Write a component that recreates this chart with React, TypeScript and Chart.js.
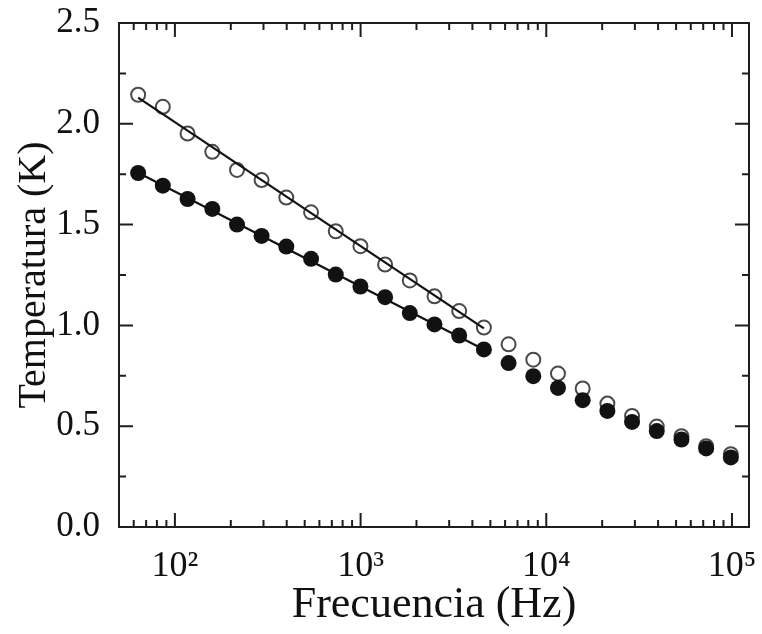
import { useEffect, useRef } from "react";
import { Chart, registerables } from "chart.js";

Chart.register(...registerables);

const frequencies = [
  63.4, 86.1, 117, 159, 216, 293, 398, 541, 735, 998, 1355, 1841, 2500, 3396, 4613,
  6266, 8511, 11560, 15700, 21330, 28970, 39350, 53450, 72600, 98600,
];
const openValues = [
  2.144, 2.084, 1.952, 1.861, 1.771, 1.721, 1.634, 1.561, 1.467, 1.393, 1.302, 1.223, 1.144,
  1.071, 0.989, 0.906, 0.83, 0.761, 0.687, 0.612, 0.551, 0.498, 0.45, 0.401, 0.361,
];
const filledValues = [
  1.756, 1.693, 1.627, 1.578, 1.5, 1.444, 1.391, 1.33, 1.252, 1.193, 1.14, 1.061, 1.005,
  0.95, 0.881, 0.813, 0.748, 0.69, 0.629, 0.576, 0.521, 0.476, 0.434, 0.39, 0.345,
];
const fitX = [63.4, 4613];
const fitOpenY = [2.13, 0.985];
const fitFilledY = [1.757, 0.88];
const xTickValues = [100, 1000, 10000, 100000];
const xTickLabels = ["10²", "10³", "10⁴", "10⁵"];
const yTickLabels = ["0.0", "0.5", "1.0", "1.5", "2.0", "2.5"];

const FONT = "'Liberation Serif', 'Times New Roman', serif";

const framePlugin = {
  id: "framePlugin",
  afterDraw(chart: any) {
    const { ctx, chartArea } = chart;
    const { left, right, top, bottom } = chartArea;
    const xs = chart.scales.x;
    const ys = chart.scales.y;
    ctx.save();
    ctx.strokeStyle = "#1e1e1e";
    ctx.lineWidth = 2;
    ctx.strokeRect(left, top, right - left, bottom - top);
    ctx.beginPath();
    const yt = ys.ticks.map((t: any) => t.value);
    for (let i = 0; i < yt.length; i++) {
      const py = ys.getPixelForValue(yt[i]);
      ctx.moveTo(left, py);
      ctx.lineTo(left + 14, py);
      ctx.moveTo(right, py);
      ctx.lineTo(right - 14, py);
      if (i < yt.length - 1) {
        const pm = ys.getPixelForValue((yt[i] + yt[i + 1]) / 2);
        ctx.moveTo(left, pm);
        ctx.lineTo(left + 7, pm);
        ctx.moveTo(right, pm);
        ctx.lineTo(right - 7, pm);
      }
    }
    for (let d = 1; d <= 5; d++) {
      for (let m = 1; m <= 9; m++) {
        const v = m * Math.pow(10, d);
        if (v < xs.min || v > xs.max) continue;
        const px = xs.getPixelForValue(v);
        const len = m === 1 ? 14 : 7;
        ctx.moveTo(px, bottom);
        ctx.lineTo(px, bottom - len);
        ctx.moveTo(px, top);
        ctx.lineTo(px, top + len);
      }
    }
    ctx.stroke();
    ctx.restore();
  },
};

export default function App() {
  const ref = useRef<HTMLCanvasElement | null>(null);

  useEffect(() => {
    if (!ref.current) return;
    const pts = (ys: number[], xsArr: number[]) => ys.map((y, i) => ({ x: xsArr[i], y }));
    const chart = new Chart(ref.current, {
      type: "scatter",
      data: {
        datasets: [
          {
            label: "fit open",
            data: pts(fitOpenY, fitX),
            showLine: true,
            borderColor: "#111",
            borderWidth: 2.2,
            pointRadius: 0,
            fill: false,
          },
          {
            label: "fit filled",
            data: pts(fitFilledY, fitX),
            showLine: true,
            borderColor: "#111",
            borderWidth: 2.2,
            pointRadius: 0,
            fill: false,
          },
          {
            label: "filled",
            data: pts(filledValues, frequencies),
            pointRadius: 8,
            pointBackgroundColor: "#121212",
            pointBorderColor: "#121212",
            pointBorderWidth: 0,
          },
          {
            label: "open",
            data: pts(openValues, frequencies),
            pointRadius: 7,
            pointBackgroundColor: "rgba(255,255,255,0)",
            pointBorderColor: "#4a4a4a",
            pointBorderWidth: 2,
          },
        ],
      },
      options: {
        animation: false,
        responsive: false,
        events: [],
        layout: { padding: { top: 23, right: 13, left: 0, bottom: 0 } },
        plugins: { legend: { display: false }, tooltip: { enabled: false } },
        scales: {
          x: {
            type: "logarithmic",
            min: 50,
            max: 123500,
            grid: { display: false },
            border: { display: false },
            afterBuildTicks: (s: any) => {
              s.ticks = xTickValues.map((v) => ({ value: v }));
            },
            afterFit: (s: any) => {
              s.height = 107;
              s.paddingLeft = 0;
              s.paddingRight = 0;
            },
            ticks: {
              autoSkip: false,
              maxRotation: 0,
              padding: 10,
              color: "#111",
              font: { family: FONT, size: 36 },
              callback: (v: any) => {
                const i = xTickValues.indexOf(Number(v));
                return i >= 0 ? xTickLabels[i] : "";
              },
            },
            title: {
              display: true,
              text: "Frecuencia (Hz)",
              color: "#111",
              font: { family: FONT, size: 44, lineHeight: 1 },
              padding: { top: 0, bottom: 7 },
            },
          },
          y: {
            min: 0,
            max: 2.5,
            grid: { display: false },
            border: { display: false },
            afterFit: (s: any) => {
              s.width = 119;
              s.paddingTop = 0;
              s.paddingBottom = 0;
            },
            ticks: {
              stepSize: 0.5,
              padding: 11,
              color: "#111",
              font: { family: FONT, size: 35 },
              callback: (v: any, i: number) => yTickLabels[i] ?? Number(v).toFixed(1),
            },
            title: {
              display: true,
              text: "Temperatura (K)",
              color: "#111",
              font: { family: FONT, size: 40, lineHeight: 1 },
              padding: { top: 14, bottom: 0 },
            },
          },
        },
      },
      plugins: [framePlugin],
    } as any);
    return () => chart.destroy();
  }, []);

  return (
    <div style={{ position: "absolute", left: 0, top: 0, width: 762, height: 634, background: "#fff" }}>
      <canvas ref={ref} width={762} height={634} style={{ display: "block" }} />
    </div>
  );
}
